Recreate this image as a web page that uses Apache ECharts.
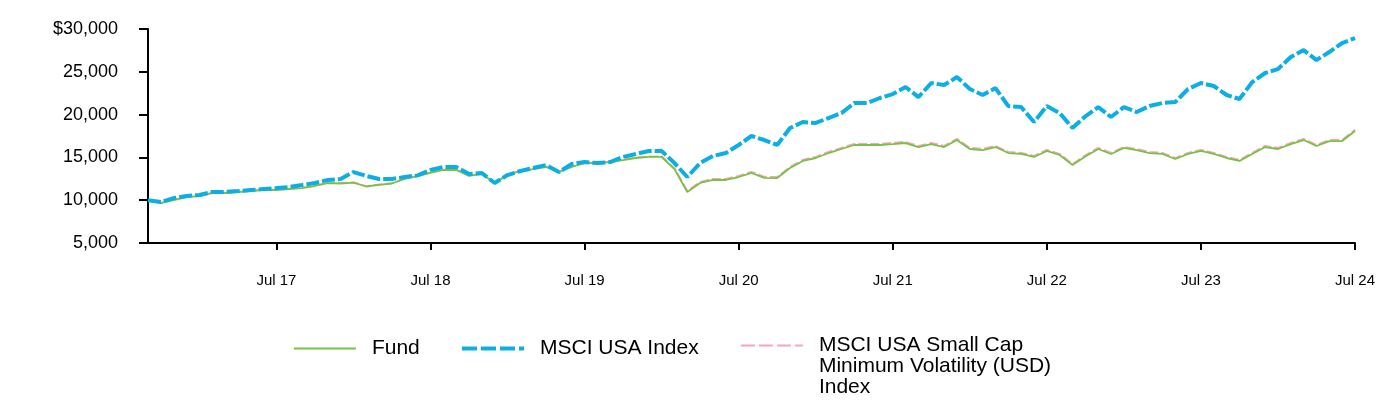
<!DOCTYPE html>
<html>
<head>
<meta charset="utf-8">
<script src="https://cdn.jsdelivr.net/npm/echarts@6/dist/echarts.min.js"></script>
<style>
html,body{margin:0;padding:0;background:#fff;}
#chart{width:1396px;height:412px;}
</style>
</head>
<body>
<div id="chart"></div>
<script>
const months = [
 'Sep 16','Oct 16','Nov 16','Dec 16',
 'Jan 17','Feb 17','Mar 17','Apr 17','May 17','Jun 17','Jul 17','Aug 17','Sep 17','Oct 17','Nov 17','Dec 17',
 'Jan 18','Feb 18','Mar 18','Apr 18','May 18','Jun 18','Jul 18','Aug 18','Sep 18','Oct 18','Nov 18','Dec 18',
 'Jan 19','Feb 19','Mar 19','Apr 19','May 19','Jun 19','Jul 19','Aug 19','Sep 19','Oct 19','Nov 19','Dec 19',
 'Jan 20','Feb 20','Mar 20','Apr 20','May 20','Jun 20','Jul 20','Aug 20','Sep 20','Oct 20','Nov 20','Dec 20',
 'Jan 21','Feb 21','Mar 21','Apr 21','May 21','Jun 21','Jul 21','Aug 21','Sep 21','Oct 21','Nov 21','Dec 21',
 'Jan 22','Feb 22','Mar 22','Apr 22','May 22','Jun 22','Jul 22','Aug 22','Sep 22','Oct 22','Nov 22','Dec 22',
 'Jan 23','Feb 23','Mar 23','Apr 23','May 23','Jun 23','Jul 23','Aug 23','Sep 23','Oct 23','Nov 23','Dec 23',
 'Jan 24','Feb 24','Mar 24','Apr 24','May 24','Jun 24','Jul 24'
];
const tickMonths = ['Jul 17','Jul 18','Jul 19','Jul 20','Jul 21','Jul 22','Jul 23','Jul 24'];

const fund = [
 10000, 9670, 10020, 10370, 10490, 10840, 10840, 10960, 11070, 11190,
 11190, 11310, 11420, 11660, 12000, 11950, 12050, 11600, 11800, 11950,
 12500, 12800, 13180, 13530, 13530, 12830, 13060, 12010, 12940, 13410,
 13640, 13880, 13290, 13880, 14340, 14340, 14460, 14690, 14930, 15050,
 15050, 13640, 10960, 12010, 12360, 12360, 12710, 13180, 12600, 12590,
 13760, 14580, 14930, 15510, 15980, 16450, 16450, 16450, 16560, 16680,
 16210, 16560, 16210, 17030, 15980, 15860, 16210, 15510, 15400, 15050,
 15750, 15280, 14110, 15100, 15980, 15400, 16100, 15860, 15510, 15400,
 14810, 15400, 15750, 15400, 14930, 14580, 15400, 16210, 15980, 16560,
 17030, 16330, 16910, 16910, 18080
];
const msciUsa = [
 10000, 9790, 10250, 10490, 10610, 10960, 10960, 11070, 11190, 11310,
 11420, 11540, 11770, 12010, 12360, 12480, 13290, 12830, 12480, 12480,
 12710, 12900, 13530, 13880, 13880, 13060, 13180, 12010, 12940, 13410,
 13760, 14110, 13290, 14230, 14460, 14340, 14460, 15050, 15400, 15750,
 15750, 14340, 12710, 14340, 15160, 15510, 16450, 17500, 17030, 16450,
 18430, 19130, 19020, 19600, 20180, 21350, 21350, 21940, 22400, 23220,
 22050, 23690, 23450, 24390, 22990, 22290, 23100, 21000, 20880, 19130,
 21000, 20180, 18430, 19800, 20880, 19720, 20880, 20300, 21000, 21350,
 21460, 22990, 23690, 23340, 22290, 21820, 23800, 24860, 25320, 26720,
 27540, 26370, 27310, 28360, 28940
];
const msciSmallMinVol = [
 10000, 9700, 10060, 10400, 10520, 10880, 10870, 10990, 11100, 11220,
 11230, 11350, 11460, 11700, 12040, 11990, 12090, 11640, 11840, 11990,
 12540, 12850, 13230, 13580, 13590, 12880, 13110, 12060, 12990, 13460,
 13690, 13930, 13340, 13930, 14390, 14390, 14510, 14750, 15000, 15130,
 15130, 13750, 11100, 12150, 12500, 12500, 12850, 13320, 12740, 12730,
 13900, 14720, 15070, 15650, 16120, 16590, 16580, 16590, 16700, 16820,
 16350, 16700, 16350, 17170, 16120, 16000, 16350, 15650, 15540, 15190,
 15890, 15420, 14250, 15240, 16120, 15540, 16240, 16000, 15650, 15540,
 14950, 15540, 15890, 15540, 15070, 14720, 15540, 16350, 16120, 16700,
 17170, 16470, 17050, 17050, 18230
];
const yTicks = [5000, 10000, 15000, 20000, 25000, 30000];
const names = ['Fund', 'MSCI USA Index', 'MSCI USA Small Cap\nMinimum Volatility (USD)\nIndex'];

const FONT = '"Liberation Sans", Arial, Helvetica, sans-serif';
const isTick = (i) => tickMonths.indexOf(months[i]) >= 0;

const chart = echarts.init(document.getElementById('chart'), null, {renderer: 'canvas'});
const legendText = {fontFamily: FONT, fontSize: 21, color: '#000', lineHeight: 21, padding: [0, 0, 0, 11]};
const legendBase = {
  orient: 'horizontal', padding: 0, itemWidth: 62, itemHeight: 14,
  itemStyle: {opacity: 0},
  textStyle: legendText
};
chart.setOption({
  animation: false,
  backgroundColor: '#fff',
  grid: {left: 148, right: 41, top: 29, bottom: 169, containLabel: false},
  legend: [
    Object.assign({}, legendBase, {left: 293, top: 338, data: [names[0]], lineStyle: {width: 1.8}}),
    Object.assign({}, legendBase, {left: 460, top: 338, data: [names[1]], lineStyle: {width: 4, type: [15, 4]}}),
    Object.assign({}, legendBase, {left: 740, top: 293, data: [names[2]], lineStyle: {width: 1.8, type: [14, 4]},
      formatter: (n) => '\n\n' + n})
  ],
  xAxis: {
    type: 'category', data: months, boundaryGap: false,
    axisLine: {lineStyle: {color: '#000', width: 2}},
    axisTick: {show: true, length: 7, lineStyle: {color: '#000', width: 2}, interval: (i) => isTick(i)},
    axisLabel: {interval: (i) => isTick(i), margin: 30, fontFamily: FONT, fontSize: 15, color: '#000'},
    splitLine: {show: false}
  },
  yAxis: {
    type: 'value', min: yTicks[0], max: yTicks[yTicks.length - 1], interval: 5000,
    axisLine: {show: true, lineStyle: {color: '#000', width: 2}},
    axisTick: {show: true, length: 9, lineStyle: {color: '#000', width: 2}},
    axisLabel: {margin: 30, fontFamily: FONT, fontSize: 18, color: '#000',
      formatter: (v) => (v === yTicks[yTicks.length - 1] ? '$' : '') + v.toLocaleString('en-US')},
    splitLine: {show: false}
  },
  series: [
    {name: names[2], type: 'line', data: msciSmallMinVol, symbol: 'none', z: 2,
     lineStyle: {color: '#F4A6C0', width: 1.8, type: [9, 3]}, itemStyle: {color: '#F4A6C0'}},
    {name: names[0], type: 'line', data: fund, symbol: 'none', z: 3,
     lineStyle: {color: '#7AC143', width: 1.8, type: 'solid'}, itemStyle: {color: '#7AC143'}},
    {name: names[1], type: 'line', data: msciUsa, symbol: 'none', z: 4,
     lineStyle: {color: '#0DAEE3', width: 4, type: [13, 3]}, itemStyle: {color: '#0DAEE3'}}
  ]
});
</script>
</body>
</html>
